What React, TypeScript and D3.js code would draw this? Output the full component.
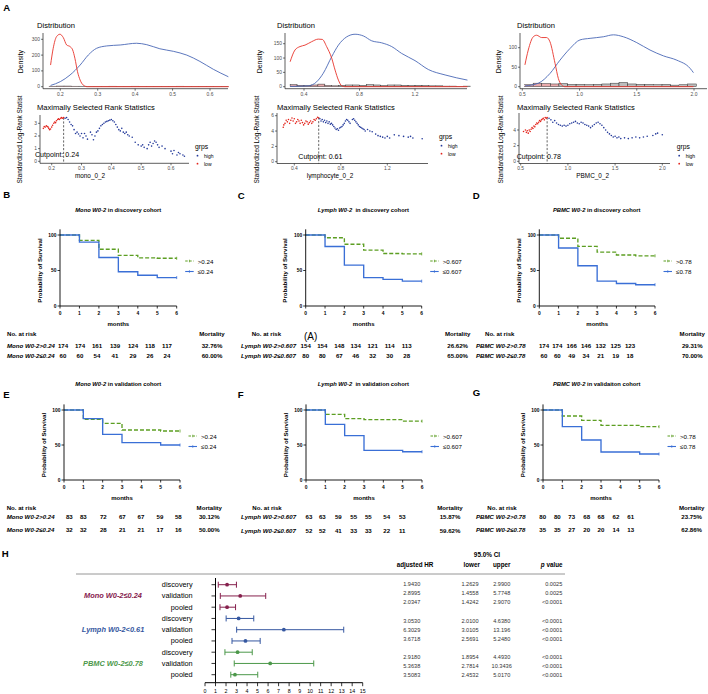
import React from "react";
import * as d3 from "d3";

const FONT = "'Liberation Sans', Arial, Helvetica, sans-serif";

// ---------- A: cut-point selection (density + maxstat) ----------
const monoLowDensity = [[0.174, 137], [0.181, 243], [0.19, 317], [0.199, 332], [0.208, 311], [0.217, 264], [0.226, 254], [0.233, 233], [0.239, 180], [0.246, 95], [0.253, 42], [0.261, 11], [0.272, 0], [0.65, 0]];
const monoHighDensity = [[0.174, 8], [0.2, 32], [0.226, 74], [0.253, 137], [0.275, 201], [0.297, 243], [0.324, 258], [0.36, 264], [0.404, 275], [0.431, 266], [0.466, 240], [0.502, 224], [0.538, 200], [0.573, 160], [0.609, 110], [0.649, 63]];
const lymphLowDensity = [[0.3, 87], [0.335, 128], [0.371, 140], [0.407, 145], [0.455, 157], [0.503, 166], [0.532, 165], [0.563, 140], [0.6, 99], [0.624, 58], [0.648, 23], [0.672, 3], [0.695, 0], [1.578, 0]];
const lymphHighDensity = [[0.3, 1], [0.431, 3], [0.491, 17], [0.539, 47], [0.6, 105], [0.648, 145], [0.708, 174], [0.768, 183], [0.828, 177], [0.888, 160], [0.96, 153], [1.032, 140], [1.104, 116], [1.2, 91], [1.296, 60], [1.417, 41], [1.578, 23]];
const pbmcLowDensity = [[0.523, 56], [0.552, 94], [0.596, 128], [0.625, 132], [0.669, 126], [0.713, 126], [0.742, 115], [0.786, 60], [0.815, 21], [0.844, 4], [0.873, 0], [1.995, 0]];
const pbmcHighDensity = [[0.523, 2], [0.64, 9], [0.742, 34], [0.829, 68], [0.917, 98], [1.004, 120], [1.092, 124], [1.208, 128], [1.296, 133], [1.383, 128], [1.5, 113], [1.616, 94], [1.733, 79], [1.85, 68], [1.966, 47], [1.995, 36]];

const monoHist = [3, 4, 4, 3, 3, 2, 2, 2, 3, 2, 2, 3, 2, 2, 2, 2, 2, 3, 2, 2, 2, 2, 1, 2];
const lymphHist = [7, 5, 4, 6, 9, 4, 3, 5, 6, 6, 5, 7, 6, 4, 6, 6, 5, 4, 5, 4, 3, 3, 2, 2, 1, 2];
const pbmcHist = [5, 9, 8, 7, 8, 6, 6, 5, 6, 7, 9, 11, 7, 6, 6, 5, 6, 4, 5, 7];

const monoRankLow = [[0.172, 2.6], [0.175, 2.75], [0.178, 2.7], [0.182, 2.8], [0.185, 2.75], [0.188, 2.7], [0.19, 2.6], [0.193, 2.5], [0.196, 2.55], [0.2, 2.7], [0.203, 2.85], [0.207, 3.0], [0.21, 3.1], [0.213, 3.05], [0.216, 3.2], [0.22, 3.3], [0.223, 3.35], [0.226, 3.3], [0.23, 3.4], [0.233, 3.45], [0.236, 3.4], [0.24, 3.45]];
const monoRankHigh = [[0.245, 3.4], [0.25, 3.45], [0.255, 3.3], [0.26, 3.1], [0.265, 2.9], [0.27, 2.8], [0.275, 2.5], [0.28, 2.2], [0.285, 2.3], [0.29, 2.15], [0.295, 2.0], [0.3, 2.2], [0.305, 1.85], [0.31, 2.2], [0.315, 2.0], [0.32, 1.75], [0.33, 2.3], [0.335, 2.1], [0.34, 1.7], [0.345, 2.0], [0.35, 2.3], [0.355, 2.4], [0.36, 2.6], [0.365, 2.8], [0.37, 2.9], [0.375, 3.0], [0.38, 3.1], [0.385, 3.15], [0.39, 3.2], [0.395, 3.25], [0.4, 3.3], [0.405, 3.2], [0.41, 3.1], [0.415, 2.9], [0.42, 2.7], [0.425, 2.5], [0.43, 2.4], [0.435, 2.6], [0.44, 2.3], [0.445, 2.2], [0.45, 2.3], [0.455, 2.1], [0.46, 2.0], [0.47, 1.9], [0.48, 1.5], [0.49, 1.3], [0.5, 1.2], [0.505, 1.3], [0.51, 1.1], [0.52, 1.0], [0.525, 1.3], [0.53, 1.5], [0.535, 1.2], [0.54, 1.4], [0.545, 1.6], [0.55, 1.5], [0.555, 1.3], [0.56, 1.1], [0.57, 1.2], [0.58, 1.0], [0.6, 0.8], [0.605, 0.6], [0.61, 0.85], [0.62, 0.5], [0.625, 0.7], [0.63, 0.6], [0.64, 0.5], [0.645, 0.4]];
const lymphRankLow = [[0.305, 4.5], [0.31, 4.8], [0.32, 5.0], [0.33, 5.4], [0.34, 5.2], [0.35, 5.5], [0.36, 5.0], [0.37, 5.4], [0.38, 5.7], [0.39, 5.3], [0.4, 5.6], [0.41, 5.0], [0.42, 5.2], [0.43, 5.5], [0.44, 5.3], [0.45, 5.0], [0.46, 5.4], [0.47, 5.1], [0.48, 4.8], [0.49, 5.0], [0.5, 5.3], [0.51, 5.2], [0.52, 4.9], [0.53, 5.1], [0.54, 5.3], [0.55, 5.0], [0.56, 5.2], [0.57, 5.5], [0.58, 5.4], [0.59, 5.6], [0.6, 5.8], [0.61, 5.7]];
const lymphRankHigh = [[0.62, 5.6], [0.63, 5.3], [0.64, 5.5], [0.65, 5.2], [0.66, 5.4], [0.67, 5.1], [0.68, 5.3], [0.69, 5.0], [0.7, 5.2], [0.71, 4.9], [0.72, 5.0], [0.73, 4.8], [0.74, 4.6], [0.75, 4.4], [0.76, 4.2], [0.77, 4.3], [0.78, 4.1], [0.79, 4.4], [0.8, 4.5], [0.81, 4.6], [0.82, 4.8], [0.83, 5.0], [0.84, 5.3], [0.85, 5.5], [0.86, 5.4], [0.87, 5.2], [0.88, 5.0], [0.9, 5.5], [0.91, 5.6], [0.92, 5.4], [0.93, 5.2], [0.94, 5.0], [0.95, 4.8], [0.96, 4.6], [0.97, 4.5], [0.98, 4.4], [0.99, 4.3], [1.0, 4.2], [1.01, 4.0], [1.03, 4.2], [1.05, 4.0], [1.07, 3.9], [1.1, 3.6], [1.12, 3.4], [1.14, 3.3], [1.16, 3.2], [1.18, 3.1], [1.2, 3.3], [1.22, 3.1], [1.26, 3.5], [1.3, 3.4], [1.34, 3.3], [1.38, 3.2], [1.4, 3.3], [1.42, 3.1], [1.5, 3.0]];
const pbmcRankLow = [[0.53, 3.8], [0.55, 4.0], [0.56, 3.7], [0.57, 3.9], [0.58, 3.6], [0.59, 4.0], [0.6, 3.8], [0.61, 4.1], [0.62, 4.3], [0.63, 4.2], [0.64, 4.5], [0.65, 4.4], [0.66, 4.7], [0.67, 4.9], [0.68, 4.8], [0.69, 5.0], [0.7, 5.2], [0.71, 5.1], [0.72, 5.3], [0.73, 5.4], [0.74, 5.5], [0.75, 5.3], [0.76, 5.6], [0.77, 5.5], [0.78, 5.6]];
const pbmcRankHigh = [[0.8, 5.5], [0.82, 5.3], [0.84, 5.0], [0.86, 5.2], [0.88, 4.9], [0.9, 4.7], [0.92, 4.6], [0.94, 4.5], [0.96, 4.6], [0.98, 4.5], [1.0, 4.6], [1.02, 4.8], [1.04, 4.9], [1.06, 5.0], [1.08, 5.1], [1.1, 4.9], [1.12, 4.8], [1.14, 5.0], [1.16, 4.9], [1.18, 4.7], [1.2, 4.6], [1.22, 4.5], [1.24, 4.3], [1.26, 4.5], [1.28, 4.7], [1.3, 4.9], [1.32, 5.0], [1.34, 4.8], [1.36, 4.6], [1.38, 4.3], [1.4, 4.0], [1.42, 3.7], [1.44, 3.5], [1.46, 3.3], [1.48, 3.1], [1.5, 3.2], [1.52, 3.0], [1.54, 3.1], [1.56, 2.9], [1.6, 3.0], [1.64, 2.9], [1.68, 3.0], [1.72, 3.1], [1.76, 3.0], [1.8, 3.1], [1.84, 3.2], [1.9, 3.3], [1.93, 3.5], [1.95, 3.6], [2.0, 3.4]];

// ---------- B-G: Kaplan-Meier (survival % per month interval) ----------
const monthTicks = [0, 1, 2, 3, 4, 5, 6];
const monoDiscHigh = [100, 92.5, 79.9, 71.3, 67.8, 67.2];
const monoDiscLow = [100, 90, 68.3, 48.3, 43.3, 40];
const lymphDiscHigh = [100, 96.1, 87, 78.6, 74, 73.4];
const lymphDiscLow = [100, 83.8, 57.5, 40, 37.5, 35];
const pbmcDiscHigh = [100, 95.4, 83.9, 75.9, 71.8, 70.7];
const pbmcDiscLow = [100, 81.7, 56.7, 35, 31.7, 30];
const monoValHigh = [100, 86.7, 81, 71.4, 71.4, 70];
const monoValLow = [100, 87.6, 65.2, 53.3, 53.3, 50];
const lymphValHigh = [100, 93.8, 87.6, 86.2, 86.2, 84.1];
const lymphValLow = [100, 79.5, 63.3, 42.4, 42.4, 40.4];
const pbmcValHigh = [100, 91.4, 85.2, 78, 78, 76.2];
const pbmcValLow = [100, 76.2, 57.1, 40, 40, 37.1];

const monoDiscRisk = [[174, 174, 161, 139, 124, 118, 117], [60, 60, 54, 41, 29, 26, 24]];
const lymphDiscRisk = [[154, 154, 148, 134, 121, 114, 113], [80, 80, 67, 46, 32, 30, 28]];
const pbmcDiscRisk = [[174, 174, 166, 146, 132, 125, 123], [60, 60, 49, 34, 21, 19, 18]];
const monoValRisk = [[83, 83, 72, 67, 67, 59, 58], [32, 32, 28, 21, 21, 17, 16]];
const lymphValRisk = [[63, 63, 59, 55, 55, 54, 53], [52, 52, 41, 33, 33, 22, 11]];
const pbmcValRisk = [[80, 80, 73, 68, 68, 62, 61], [35, 35, 27, 20, 20, 14, 13]];

const mortDisc = [["32.76%", "60.00%"], ["26.62%", "65.00%"], ["29.31%", "70.00%"]];
const mortVal = [["30.12%", "50.00%"], ["15.87%", "59.62%"], ["23.75%", "62.86%"]];

// ---------- H: forest plot ----------
const forestGroups = ["Mono W0-2≤0.24", "Lymph W0-2<0.61", "PBMC W0-2≤0.78"];
const cohorts = ["discovery", "validation", "pooled"];
const forestPoint = [2.1, 3.35, 2.1, 3.2, 7.5, 3.85, 3.1, 6.2, 2.85];
const hrText = ["1.9430", "2.8995", "2.0347", "3.0530", "6.3029", "3.6718", "2.9180", "5.3638", "3.5083"];
const lowerText = ["1.2629", "1.4558", "1.4242", "2.0100", "3.0105", "2.5691", "1.8954", "2.7814", "2.4532"];
const upperText = ["2.9900", "5.7748", "2.9070", "4.6380", "13.196", "5.2480", "4.4930", "10.3436", "5.0170"];
const pText = ["0.0025", "0.0025", "<0.0001", "<0.0001", "<0.0001", "<0.0001", "<0.0001", "<0.0001", "<0.0001"];

const groupColors = ["#86204d", "#3557a0", "#4c984a"];
const RED = "#e8332a";
const BLUE = "#4a68b5";
const DOT_RED = "#e3231b";
const DOT_BLUE = "#23399a";
const KM_GREEN = "#5c9e22";
const KM_BLUE = "#3a6fd6";

const cutPanels = [
  {
    low: monoLowDensity, high: monoHighDensity, hist: monoHist, hStart: 0.17, hW: 0.02, cut: 0.24,
    rLow: monoRankLow, rHigh: monoRankHigh, xlab: "mono_0_2", cutLab: "Cutpoint: 0.24",
    dist: { l: 43, r: 228, t: 33, b: 88.7, xd: [0.2, 0.6], xr: [60.3, 210], yd: [0, 300], yr: [86.7, 39.3], xt: [0.2, 0.3, 0.4, 0.5, 0.6], yt: [0, 100, 200, 300] },
    rank: { l: 40, r: 189, t: 115, b: 163.3, xd: [0.2, 0.6], xr: [51.7, 171], yd: [0, 3], yr: [161.3, 123.3], xt: [0.2, 0.3, 0.4, 0.5, 0.6], yt: [0, 1, 2, 3] },
    titleX: 37, densX: 20.7, statX: 19, xlabX: 90, legX: 195, legY: 146.7, cutX: 35, cutY: 155,
  },
  {
    low: lymphLowDensity, high: lymphHighDensity, hist: lymphHist, hStart: 0.3, hW: 0.05, cut: 0.61,
    rLow: lymphRankLow, rHigh: lymphRankHigh, xlab: "lymphocyte_0_2", cutLab: "Cutpoint: 0.61",
    dist: { l: 285, r: 467, t: 33, b: 88.7, xd: [0.4, 1.2], xr: [304, 415], yd: [0, 150], yr: [86.7, 43.7], xt: [0.4, 0.8, 1.2], yt: [0, 50, 100, 150] },
    rank: { l: 277, r: 428, t: 113, b: 163.5, xd: [0.4, 1.2], xr: [294.3, 387.3], yd: [0, 6], yr: [161.7, 115.7], xt: [0.4, 0.8, 1.2], yt: [0, 2, 4, 6] },
    titleX: 277, densX: 259, statX: 256, xlabX: 330, legX: 439, legY: 136.7, cutX: 298.3, cutY: 157.3,
  },
  {
    low: pbmcLowDensity, high: pbmcHighDensity, hist: pbmcHist, hStart: 0.52, hW: 0.075, cut: 0.78,
    rLow: pbmcRankLow, rHigh: pbmcRankHigh, xlab: "PBMC_0_2", cutLab: "Cutpoint: 0.78",
    dist: { l: 520, r: 707, t: 33, b: 88.7, xd: [0.5, 2.0], xr: [522.3, 694], yd: [0, 100], yr: [86.7, 47.7], xt: [0.5, 1.0, 1.5, 2.0], yt: [0, 50, 100] },
    rank: { l: 519, r: 670, t: 113, b: 163.5, xd: [0.5, 2.0], xr: [520.7, 662.3], yd: [0, 4], yr: [161.3, 130], xt: [0.5, 1.0, 1.5, 2.0], yt: [0, 2, 4] },
    titleX: 517, densX: 498, statX: 500, xlabX: 592.7, legX: 676.7, legY: 146.7, cutX: 516.7, cutY: 156.7,
  },
];

const kmPanels = [
  { title: "Mono W0-2", rest: " in discovery cohort", cx: 118.3, ty: 210, x0: 60, x6: 176.7, y0: 306, y100: 235, leg: [">0.24", "≤0.24"], high: monoDiscHigh, low: monoDiscLow, rows: ["Mono W0-2>0.24", "Mono W0-2≤0.24"], risk: monoDiscRisk, mort: mortDisc[0], labX: 7, noX: 7, headY: 333.3, rowY: [345.7, 355.7], colX: [63, 80, 97, 115, 133, 150, 167], mortX: 212 },
  { title: "Lymph W0-2", rest: "  in discovery cohort", cx: 363.3, ty: 210, x0: 305.7, x6: 421.7, y0: 306, y100: 235, leg: [">0.607", "≤0.607"], high: lymphDiscHigh, low: lymphDiscLow, rows: ["Lymph W0-2>0.607", "Lymph W0-2≤0.607"], risk: lymphDiscRisk, mort: mortDisc[1], labX: 241, noX: 251.7, headY: 333.3, rowY: [345.7, 355.7], colX: [305.7, 322.3, 339.3, 355.7, 372.7, 389.7, 406.7], mortX: 457.7 },
  { title: "PBMC W0-2", rest: " in discovery cohort", cx: 596.7, ty: 210, x0: 539.3, x6: 655, y0: 306, y100: 235, leg: [">0.78", "≤0.78"], high: pbmcDiscHigh, low: pbmcDiscLow, rows: ["PBMC W0-2>0.78", "PBMC W0-2≤0.78"], risk: pbmcDiscRisk, mort: mortDisc[2], labX: 476, noX: 485, headY: 333.3, rowY: [345.7, 355.7], colX: [544, 557.3, 571.7, 586, 600.7, 615.7, 630], mortX: 692.3 },
  { title: "Mono W0-2", rest: " in validation cohort", cx: 118.3, ty: 384, x0: 64, x6: 180, y0: 480, y100: 410, leg: [">0.24", "≤0.24"], high: monoValHigh, low: monoValLow, rows: ["Mono W0-2>0.24", "Mono W0-2≤0.24"], risk: monoValRisk, mort: mortVal[0], labX: 6.7, noX: 6.7, headY: 507.3, rowY: [516.5, 529.5], colX: [69.3, 83.3, 103.3, 122.3, 141, 160, 178.3], mortX: 209.3 },
  { title: "Lymph W0-2", rest: "  in validation cohort", cx: 363.3, ty: 384, x0: 306, x6: 422, y0: 480, y100: 410, leg: [">0.607", "≤0.607"], high: lymphValHigh, low: lymphValLow, rows: ["Lymph W0-2>0.607", "Lymph W0-2≤0.607"], risk: lymphValRisk, mort: mortVal[1], labX: 241, noX: 252.3, headY: 507.3, rowY: [516.7, 530], colX: [309, 322.3, 338.3, 353.7, 368.3, 386.7, 402.3], mortX: 450 },
  { title: "PBMC W0-2", rest: " in validaiton cohort", cx: 596.7, ty: 384, x0: 543, x6: 659, y0: 480, y100: 410, leg: [">0.78", "≤0.78"], high: pbmcValHigh, low: pbmcValLow, rows: ["PBMC W0-2>0.78", "PBMC W0-2≤0.78"], risk: pbmcValRisk, mort: mortVal[2], labX: 476, noX: 487.3, headY: 507.3, rowY: [516.3, 529.3], colX: [542.7, 557.3, 571.7, 586.7, 601, 616, 630.7], mortX: 691.7 },
];

const letters = [
  ["A", 3.3, 10.5], ["B", 3.3, 197.5], ["C", 237.7, 199], ["D", 472.7, 199],
  ["E", 3.3, 397.5], ["F", 237.7, 397.5], ["G", 472.7, 395.5], ["H", 1.7, 557],
];

const fmt1 = d3.format(".1f");
const AX = "#1a1a1a";
const TICK = "#4d4d4d";

function CutPanel({ s, idx }: any) {
  const D = s.dist, R = s.rank;
  const dx = d3.scaleLinear().domain(D.xd).range(D.xr);
  const dy = d3.scaleLinear().domain(D.yd).range(D.yr);
  const rx = d3.scaleLinear().domain(R.xd).range(R.xr);
  const ry = d3.scaleLinear().domain(R.yd).range(R.yr);
  const dens = d3.line<any>().x((d) => dx(d[0])).y((d) => dy(d[1])).curve(d3.curveMonotoneX);
  const maxStat = d3.max([...s.rLow, ...s.rHigh], (d: any) => d[1]) as number;
  const clipId = `statclip${idx}`;
  return (
    <g>
      <text x={s.titleX} y={25} fontSize={7.6} dominantBaseline="central">Distribution</text>
      {s.hist.map((c: number, i: number) => {
        const a = s.hStart + i * s.hW;
        return (
          <rect key={i} x={dx(a)} y={dy(c)} width={dx(a + s.hW) - dx(a)} height={dy(0) - dy(c)}
            fill={a < s.cut ? "#e9a9ab" : "#bdbdbd"} stroke="#333" strokeWidth={0.5} />
        );
      })}
      <path d={dens(s.high) || ""} fill="none" stroke={BLUE} strokeWidth={0.9} />
      <path d={dens(s.low) || ""} fill="none" stroke={RED} strokeWidth={0.9} />
      <line x1={D.l} x2={D.l} y1={D.t} y2={D.b} stroke={AX} strokeWidth={0.7} />
      <line x1={D.l} x2={D.r} y1={D.b} y2={D.b} stroke={AX} strokeWidth={0.7} />
      {D.yt.map((t: number) => (
        <g key={"dy" + t}>
          <line x1={D.l - 2} x2={D.l} y1={dy(t)} y2={dy(t)} stroke={AX} strokeWidth={0.6} />
          <text x={D.l - 3} y={dy(t)} fontSize={4.9} fill={TICK} textAnchor="end" dominantBaseline="central">{t}</text>
        </g>
      ))}
      {D.xt.map((t: number) => (
        <g key={"dx" + t}>
          <line x1={dx(t)} x2={dx(t)} y1={D.b} y2={D.b + 2} stroke={AX} strokeWidth={0.6} />
          <text x={dx(t)} y={D.b + 5.3} fontSize={4.9} fill={TICK} textAnchor="middle" dominantBaseline="central">{fmt1(t)}</text>
        </g>
      ))}
      <text transform={`translate(${s.densX},61.7) rotate(-90)`} fontSize={7} textAnchor="middle" dominantBaseline="central">Density</text>

      <text x={s.titleX} y={107.3} fontSize={7.6} dominantBaseline="central">Maximally Selected Rank Statistics</text>
      <line x1={rx(s.cut)} x2={rx(s.cut)} y1={ry(maxStat)} y2={R.b} stroke="#222" strokeWidth={0.7} strokeDasharray="2.2,1.6" />
      {s.rLow.map((d: number[], i: number) => (
        <circle key={"rl" + i} cx={rx(d[0])} cy={ry(d[1])} r={0.8} fill={DOT_RED} />
      ))}
      {s.rHigh.map((d: number[], i: number) => (
        <circle key={"rh" + i} cx={rx(d[0])} cy={ry(d[1])} r={0.8} fill={DOT_BLUE} />
      ))}
      <text x={s.cutX} y={s.cutY} fontSize={7.1} dominantBaseline="central">{s.cutLab}</text>
      <line x1={R.l} x2={R.l} y1={R.t} y2={R.b} stroke={AX} strokeWidth={0.7} />
      <line x1={R.l} x2={R.r} y1={R.b} y2={R.b} stroke={AX} strokeWidth={0.7} />
      {R.yt.map((t: number) => (
        <g key={"ry" + t}>
          <line x1={R.l - 2} x2={R.l} y1={ry(t)} y2={ry(t)} stroke={AX} strokeWidth={0.6} />
          <text x={R.l - 3} y={ry(t)} fontSize={4.9} fill={TICK} textAnchor="end" dominantBaseline="central">{t}</text>
        </g>
      ))}
      {R.xt.map((t: number) => (
        <g key={"rx" + t}>
          <line x1={rx(t)} x2={rx(t)} y1={R.b} y2={R.b + 2} stroke={AX} strokeWidth={0.6} />
          <text x={rx(t)} y={R.b + 4.9} fontSize={4.9} fill={TICK} textAnchor="middle" dominantBaseline="central">{fmt1(t)}</text>
        </g>
      ))}
      <text x={s.xlabX} y={175.2} fontSize={6.4} textAnchor="middle" dominantBaseline="central">{s.xlab}</text>
      <clipPath id={clipId}>
        <rect x={s.statX - 6} y={95.5} width={12} height={100} />
      </clipPath>
      <g clipPath={`url(#${clipId})`}>
        <text transform={`translate(${s.statX},183.5) rotate(-90)`} fontSize={6.5} textAnchor="start" dominantBaseline="central">Standardized Log-Rank Statistic</text>
      </g>
      <text x={s.legX} y={s.legY} fontSize={6.8} dominantBaseline="central">grps</text>
      <circle cx={s.legX + 2.5} cy={s.legY + 9} r={0.9} fill={DOT_BLUE} />
      <text x={s.legX + 9} y={s.legY + 9} fontSize={5} dominantBaseline="central">high</text>
      <circle cx={s.legX + 2.5} cy={s.legY + 17} r={0.9} fill={DOT_RED} />
      <text x={s.legX + 9} y={s.legY + 17} fontSize={5} dominantBaseline="central">low</text>
    </g>
  );
}

function KMPanel({ p }: any) {
  const x = d3.scaleLinear().domain([0, 6]).range([p.x0, p.x6]);
  const y = d3.scaleLinear().domain([0, 100]).range([p.y0, p.y100]);
  const step = d3.line<any>().x((d) => x(d[0])).y((d) => y(d[1])).curve(d3.curveStepAfter);
  const pts = (s: number[]) => [...s.map((v, i) => [i, v]), [6, s[s.length - 1]]];
  const lx1 = p.x6 + 8.5, lx2 = p.x6 + 17;
  const legY = [p.y100 + 26, p.y100 + 36.5];
  const fw = 700;
  const tf = 6.1;
  return (
    <g>
      <text x={p.cx} y={p.ty} fontSize={5.8} fontWeight={fw} textAnchor="middle" dominantBaseline="central">
        <tspan fontStyle="italic">{p.title}</tspan>
        <tspan xmlSpace="preserve">{p.rest}</tspan>
      </text>
      <path d={step(pts(p.high)) || ""} fill="none" stroke={KM_GREEN} strokeWidth={1.35} strokeDasharray="4,2" />
      <path d={step(pts(p.low)) || ""} fill="none" stroke={KM_BLUE} strokeWidth={1.35} />
      <line x1={x(6)} x2={x(6)} y1={y(p.high[5]) - 1.5} y2={y(p.high[5]) + 1.5} stroke={KM_GREEN} strokeWidth={0.8} />
      <line x1={x(6)} x2={x(6)} y1={y(p.low[5]) - 1.5} y2={y(p.low[5]) + 1.5} stroke={KM_BLUE} strokeWidth={0.8} />
      <line x1={p.x0} x2={p.x0} y1={y(108)} y2={p.y0} stroke="#000" strokeWidth={0.9} />
      <line x1={p.x0} x2={p.x6} y1={p.y0} y2={p.y0} stroke="#000" strokeWidth={0.9} />
      {[0, 50, 100].map((t) => (
        <g key={t}>
          <line x1={p.x0 - 2.5} x2={p.x0} y1={y(t)} y2={y(t)} stroke="#000" strokeWidth={0.8} />
          <text x={p.x0 - 3.5} y={y(t)} fontSize={4.9} fontWeight={fw} textAnchor="end" dominantBaseline="central">{t}</text>
        </g>
      ))}
      {monthTicks.map((t) => (
        <g key={t}>
          <line x1={x(t)} x2={x(t)} y1={p.y0} y2={p.y0 + 2.5} stroke="#000" strokeWidth={0.8} />
          <text x={x(t)} y={p.y0 + 7.5} fontSize={4.9} fontWeight={fw} textAnchor="middle" dominantBaseline="central">{t}</text>
        </g>
      ))}
      <text x={(p.x0 + p.x6) / 2} y={p.y0 + 17.5} fontSize={6} fontWeight={fw} textAnchor="middle" dominantBaseline="central">months</text>
      <text transform={`translate(${p.x0 - 21},${(p.y0 + p.y100) / 2}) rotate(-90)`} fontSize={6.1} fontWeight={fw} textAnchor="middle" dominantBaseline="central">Probability of Survival</text>
      <line x1={lx1} x2={lx2} y1={legY[0]} y2={legY[0]} stroke={KM_GREEN} strokeWidth={1.1} strokeDasharray="2.5,1.5" />
      <line x1={(lx1 + lx2) / 2} x2={(lx1 + lx2) / 2} y1={legY[0] - 1.3} y2={legY[0] + 1.3} stroke={KM_GREEN} strokeWidth={0.7} />
      <text x={p.x6 + 21} y={legY[0]} fontSize={6.2} dominantBaseline="central">{p.leg[0]}</text>
      <line x1={lx1} x2={lx2} y1={legY[1]} y2={legY[1]} stroke={KM_BLUE} strokeWidth={1.1} />
      <line x1={(lx1 + lx2) / 2} x2={(lx1 + lx2) / 2} y1={legY[1] - 1.3} y2={legY[1] + 1.3} stroke={KM_BLUE} strokeWidth={0.7} />
      <text x={p.x6 + 21} y={legY[1]} fontSize={6.2} dominantBaseline="central">{p.leg[1]}</text>

      <text x={p.noX} y={p.headY} fontSize={tf} fontWeight={fw} dominantBaseline="central">No. at risk</text>
      <text x={p.mortX} y={p.headY} fontSize={tf} fontWeight={fw} textAnchor="middle" dominantBaseline="central">Mortality</text>
      {p.rows.map((lab: string, r: number) => (
        <g key={r}>
          <text x={p.labX} y={p.rowY[r]} fontSize={tf} fontWeight={fw} fontStyle="italic" dominantBaseline="central">{lab}</text>
          {p.risk[r].map((n: number, i: number) => (
            <text key={i} x={p.colX[i]} y={p.rowY[r]} fontSize={tf} fontWeight={fw} textAnchor="middle" dominantBaseline="central">{n}</text>
          ))}
          <text x={p.mortX} y={p.rowY[r]} fontSize={tf} fontWeight={fw} textAnchor="middle" dominantBaseline="central">{p.mort[r]}</text>
        </g>
      ))}
    </g>
  );
}

function Forest() {
  const fx = d3.scaleLinear().domain([0, 15]).range([205, 362.7]);
  const fy = d3.scaleLinear().domain([0, 8]).range([584.7, 674.7]);
  const axisY = 682.7;
  const tableY = (i: number) => 584 + Math.floor(i / 3) * 36.5 + (i % 3) * 9;
  const rows = d3.range(9);
  return (
    <g>
      <line x1={76} x2={565} y1={574} y2={574} stroke="#8a8a8a" strokeWidth={0.9} />
      <text x={487} y={554} fontSize={6.4} fontWeight={700} textAnchor="middle" dominantBaseline="central">95.0% CI</text>
      <text x={415} y={564} fontSize={6.3} fontWeight={700} textAnchor="middle" dominantBaseline="central">adjusted HR</text>
      <text x={471.7} y={564} fontSize={6.3} fontWeight={700} textAnchor="middle" dominantBaseline="central">lower</text>
      <text x={501.7} y={564} fontSize={6.3} fontWeight={700} textAnchor="middle" dominantBaseline="central">upper</text>
      <text x={551.7} y={564} fontSize={6.3} fontWeight={700} textAnchor="middle" dominantBaseline="central">
        <tspan fontStyle="italic">p</tspan> value
      </text>
      {forestGroups.map((g, k) => (
        <text key={g} x={113} y={fy(k * 3 + 1)} fontSize={7.4} fontWeight={700} fontStyle="italic" fill={groupColors[k]} textAnchor="middle" dominantBaseline="central">{g}</text>
      ))}
      {rows.map((i) => {
        const c = groupColors[Math.floor(i / 3)];
        const lo = parseFloat(lowerText[i]);
        const hi = parseFloat(upperText[i]);
        const yy = fy(i);
        return (
          <g key={i}>
            <text x={192.7} y={yy} fontSize={7.3} textAnchor="end" dominantBaseline="central">{cohorts[i % 3]}</text>
            <line x1={fx(1) - 4} x2={fx(1)} y1={yy} y2={yy} stroke="#000" strokeWidth={0.8} />
            <line x1={fx(lo)} x2={fx(hi)} y1={yy} y2={yy} stroke={c} strokeWidth={1} />
            <line x1={fx(lo)} x2={fx(lo)} y1={yy - 3} y2={yy + 3} stroke={c} strokeWidth={1} />
            <line x1={fx(hi)} x2={fx(hi)} y1={yy - 3} y2={yy + 3} stroke={c} strokeWidth={1} />
            <circle cx={fx(forestPoint[i])} cy={yy} r={1.9} fill={c} />
            <text x={411.7} y={tableY(i)} fontSize={5.6} fill="#333" textAnchor="middle" dominantBaseline="central">{hrText[i]}</text>
            <text x={470} y={tableY(i)} fontSize={5.6} fill="#333" textAnchor="middle" dominantBaseline="central">{lowerText[i]}</text>
            <text x={501.7} y={tableY(i)} fontSize={5.6} fill="#333" textAnchor="middle" dominantBaseline="central">{upperText[i]}</text>
            <text x={562.3} y={tableY(i)} fontSize={5.6} fill="#333" textAnchor="end" dominantBaseline="central">{pText[i]}</text>
          </g>
        );
      })}
      <line x1={fx(1)} x2={fx(1)} y1={578} y2={axisY} stroke="#000" strokeWidth={1} />
      <line x1={fx(0)} x2={fx(15)} y1={axisY} y2={axisY} stroke="#000" strokeWidth={1} />
      {fx.ticks(15).map((t) => (
        <g key={t}>
          <line x1={fx(t)} x2={fx(t)} y1={axisY} y2={axisY + 3.5} stroke="#000" strokeWidth={0.8} />
          <text x={fx(t)} y={691.3} fontSize={5.3} textAnchor="middle" dominantBaseline="central">{t}</text>
        </g>
      ))}
    </g>
  );
}

export default function App() {
  return (
    <svg width={708} height={694} viewBox="0 0 708 694"
      style={{ position: "absolute", left: 0, top: 0, background: "#fff", fontFamily: FONT }}>
      <rect width={708} height={694} fill="#fff" />
      {cutPanels.map((s, i) => <CutPanel key={i} s={s} idx={i} />)}
      {kmPanels.map((p, i) => <KMPanel key={i} p={p} />)}
      <text x={304} y={336} fontSize={10} dominantBaseline="central">(A)</text>
      <Forest />
      {letters.map(([l, x, y]) => (
        <text key={l as string} x={x as number} y={y as number} fontSize={9.6} fontWeight={700}>{l}</text>
      ))}
    </svg>
  );
}
